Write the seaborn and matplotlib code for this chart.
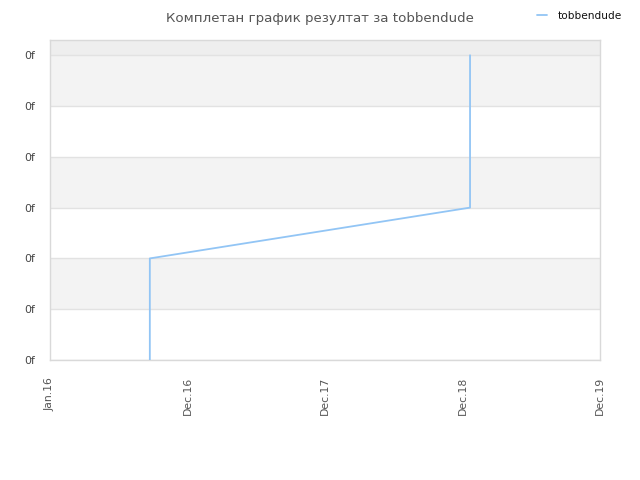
import matplotlib

matplotlib.use('Agg')
import matplotlib.pyplot as plt
import seaborn as sns
import pandas as pd
import numpy as np

# data
dates = ['2016-09-22', '2016-09-22', '2016-09-22', '2019-01-20', '2019-01-20', '2019-01-20']
scores = [0, 0.5, 2, 3, 4.5, 6]
player = 'tobbendude'
y_ticks = [0, 1, 2, 3, 4, 5, 6]
y_labels = ['0f'] * 7
x_start = pd.Timestamp('2016-01-01')
x_labels = ['Jan.16', 'Dec.16', 'Dec.17', 'Dec.18', 'Dec.19']

df = pd.DataFrame({'date': pd.to_datetime(dates), 'score': scores})

sns.set_style('white')
plt.rcParams['font.family'] = ['DejaVu Sans']

LINE = '#92c5f5'
GRID = '#e2e2e2'
TXT = '#555555'

fig = plt.figure(figsize=(6.4, 4.8), dpi=100)
ax = fig.add_axes([50 / 640, 120 / 480, 550 / 640, 320 / 480])

ymax = 6.3
# alternating bands
for i in range(len(y_ticks) - 1):
    if i % 2 == 1:
        ax.axhspan(y_ticks[i], y_ticks[i + 1], color='#f3f3f3', zorder=0, lw=0)
ax.axhspan(y_ticks[-1], ymax, color='#eeeeee', zorder=0, lw=0)
for t in y_ticks:
    ax.axhline(t, color=GRID, lw=1, zorder=1)

sns.lineplot(data=df, x='date', y='score', ax=ax, color=LINE, lw=1.3,
             sort=False, estimator=None, label=player, zorder=3)

tick_pos = [x_start + pd.Timedelta(days=365 * k) for k in range(len(x_labels))]
ax.set_xlim(tick_pos[0], tick_pos[-1])
ax.set_ylim(0, ymax)
ax.set_xticks(tick_pos)
ax.set_xticklabels(x_labels, rotation=90, fontsize=7.8, color=TXT)
ax.set_yticks(y_ticks)
ax.set_yticklabels(y_labels, fontsize=7.8, color='#444444')
ax.tick_params(axis='x', length=0, pad=12)
ax.tick_params(axis='y', length=0, pad=11)
ax.set_xlabel('')
ax.set_ylabel('')
for s in ax.spines.values():
    s.set_color('#d9d9d9')
    s.set_linewidth(1)

fig.text(0.5, 0.975, 'Комплетан график резултат за tobbendude', ha='center', va='top',
         fontsize=9.6, color=TXT)
leg = ax.legend(loc='upper right', bbox_to_anchor=(1.058, 1.12), frameon=False,
                fontsize=7.6, handlelength=0.9, handletextpad=1.1)
for t in leg.get_texts():
    t.set_color('#111111')

plt.savefig('out.png', dpi=100)
